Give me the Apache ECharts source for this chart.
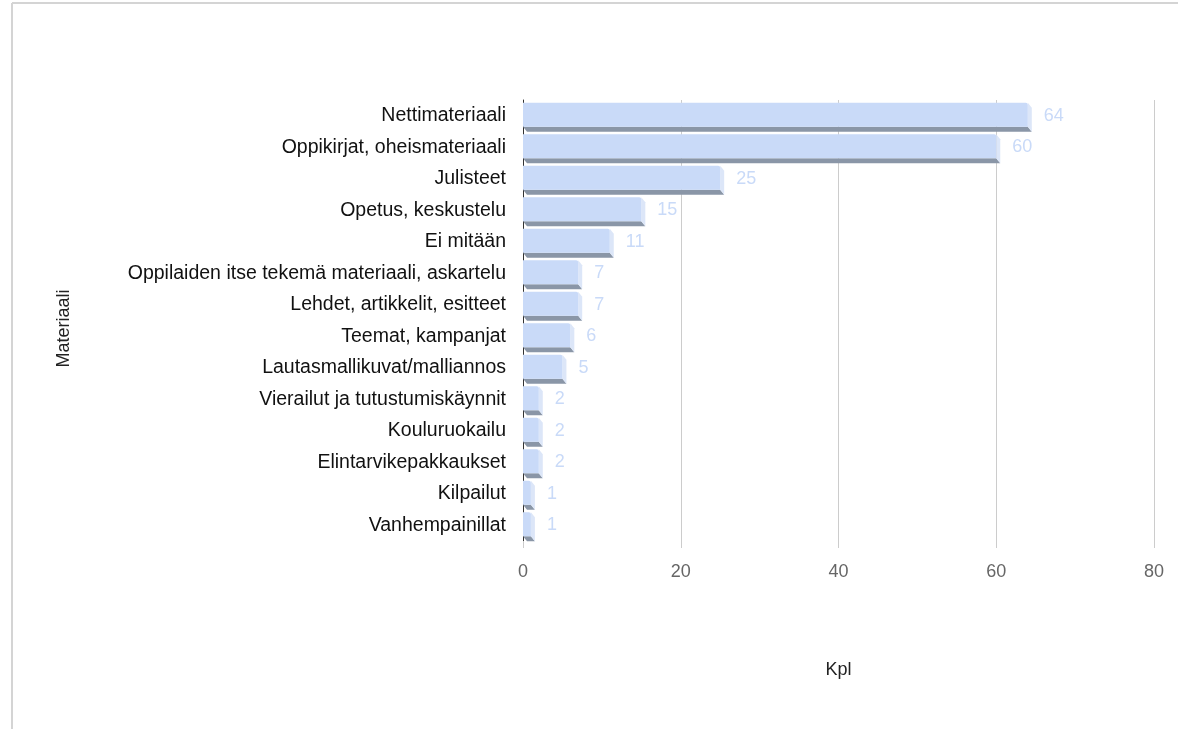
<!DOCTYPE html>
<html>
<head>
<meta charset="utf-8">
<script src="https://cdn.jsdelivr.net/npm/echarts@6/dist/echarts.min.js"></script>
<style>
html,body{margin:0;padding:0;background:#fff;}
#c{width:1178px;height:729px;}
</style>
</head>
<body>
<div id="c"></div>
<script>
const categories = [
  "Nettimateriaali",
  "Oppikirjat, oheismateriaali",
  "Julisteet",
  "Opetus, keskustelu",
  "Ei mitään",
  "Oppilaiden itse tekemä materiaali, askartelu",
  "Lehdet, artikkelit, esitteet",
  "Teemat, kampanjat",
  "Lautasmallikuvat/malliannos",
  "Vierailut ja tutustumiskäynnit",
  "Kouluruokailu",
  "Elintarvikepakkaukset",
  "Kilpailut",
  "Vanhempainillat"
];
const values = [64, 60, 25, 15, 11, 7, 7, 6, 5, 2, 2, 2, 1, 1];
const xTicks = [0, 20, 40, 60, 80];

const chart = echarts.init(document.getElementById('c'));
const FONT = '"Liberation Sans", Arial, sans-serif';

chart.setOption({
  animation: false,
  backgroundColor: '#fff',
  textStyle: { fontFamily: FONT },
  graphic: [
    { type: 'line', shape: { x1: 12, y1: 3, x2: 1178, y2: 3 }, style: { stroke: '#d4d4d4', lineWidth: 2 } },
    { type: 'line', shape: { x1: 12, y1: 3, x2: 12, y2: 729 }, style: { stroke: '#d4d4d4', lineWidth: 2 } }
  ],
  grid: { left: 523, right: 24, top: 100, bottom: 188, containLabel: false },
  xAxis: {
    type: 'value',
    min: xTicks[0],
    max: xTicks[xTicks.length - 1],
    interval: 20,
    name: 'Kpl',
    nameLocation: 'middle',
    nameGap: 120,
    nameTextStyle: { color: '#222', fontSize: 18, fontFamily: FONT },
    axisLine: { show: false },
    axisTick: { show: true, length: 7, lineStyle: { color: '#cccccc' } },
    splitLine: { show: true, lineStyle: { color: '#cccccc', width: 1 } },
    axisLabel: { color: '#666', fontSize: 18, margin: 22, fontFamily: FONT }
  },
  yAxis: {
    type: 'category',
    data: categories,
    inverse: true,
    name: 'Materiaali',
    nameLocation: 'middle',
    nameGap: 450,
    nameRotate: 90,
    nameTextStyle: { color: '#222', fontSize: 18, fontFamily: FONT, padding: [0, 16, 0, 0] },
    axisLine: { show: true, lineStyle: { color: '#333', width: 1 } },
    axisTick: { show: false },
    axisLabel: { color: '#111', fontSize: 19.5, margin: 17, fontFamily: FONT }
  },
  series: [{
    type: 'custom',
    data: values.map((v, i) => [v, i]),
    encode: { x: 0, y: 1 },
    renderItem: function (params, api) {
      const v = api.value(0);
      const idx = api.value(1);
      const p0 = api.coord([0, idx]);
      const p1 = api.coord([v, idx]);
      const band = api.size([0, 1])[1];
      const bh = band * 0.76;
      const x0 = p0[0], xv = p1[0];
      const yTop = p0[1] - bh / 2 - 1;
      const yb = yTop + bh;
      const dx = 4, dy = 5;
      return {
        type: 'group',
        children: [
          { type: 'polygon', shape: { points: [[x0, yb], [xv, yb], [xv + dx, yb + dy], [x0 + dx, yb + dy]] },
            style: { fill: '#8a96a7' } },
          { type: 'polygon', shape: { points: [[xv, yTop], [xv + dx, yTop + dy], [xv + dx, yb + dy], [xv, yb]] },
            style: { fill: '#dce6f8' } },
          { type: 'rect', shape: { x: x0, y: yTop, width: xv - x0, height: bh, r: [0, 2, 0, 0] },
            style: { fill: '#c9daf8' } },
          { type: 'text', style: { x: xv + 16, y: p0[1], text: String(v), fill: '#c9daf8',
            font: '18px ' + FONT, verticalAlign: 'middle', align: 'left' } }
        ]
      };
    }
  }]
});
</script>
</body>
</html>
